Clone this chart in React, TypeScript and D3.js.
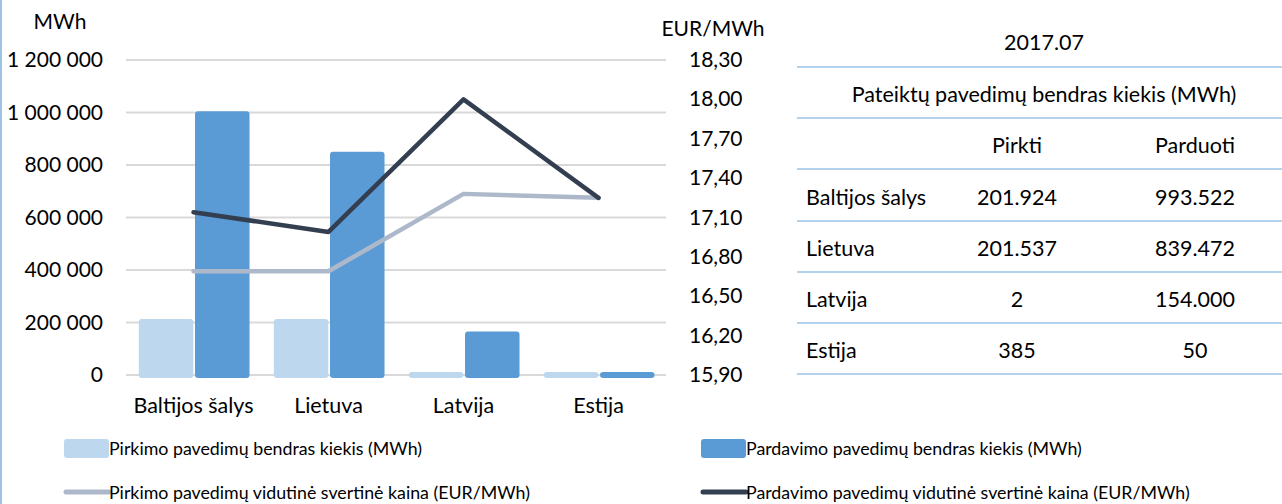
import React from "react";
import * as d3 from "d3";

const categories = ["Baltijos šalys", "Lietuva", "Latvija", "Estija"];
const buyVolume = [201924, 201537, 2, 385];
const sellVolume = [993522, 839472, 154000, 50];
const buyPrice = [16.69, 16.69, 17.28, 17.25];
const sellPrice = [17.14, 16.99, 18.0, 17.25];
const leftTicks = [0, 200000, 400000, 600000, 800000, 1000000, 1200000];
const rightTicks = [15.9, 16.2, 16.5, 16.8, 17.1, 17.4, 17.7, 18.0, 18.3];

const tableTitle = "2017.07";
const tableSubtitle = "Pateiktų pavedimų bendras kiekis (MWh)";
const tableColumns = ["Pirkti", "Parduoti"];
const tableRowLabels = ["Baltijos šalys", "Lietuva", "Latvija", "Estija"];
const tableBuy = ["201.924", "201.537", "2", "385"];
const tableSell = ["993.522", "839.472", "154.000", "50"];

const legendItems = [
  { label: "Pirkimo pavedimų bendras kiekis (MWh)", kind: "bar", color: "#BDD7EE" },
  { label: "Pardavimo pavedimų bendras kiekis (MWh)", kind: "bar", color: "#5B9BD5" },
  { label: "Pirkimo pavedimų vidutinė svertinė kaina (EUR/MWh)", kind: "line", color: "#ADB9CA" },
  { label: "Pardavimo pavedimų vidutinė svertinė kaina (EUR/MWh)", kind: "line", color: "#333F50" },
];

const FONT = "Lato, 'Open Sans', sans-serif";
const W = 1282;
const H = 504;
const plotL = 126;
const plotR = 666;
const plotT = 60;
const plotB = 375;
const FS = 21;
const FS_TXT = 21.5;
const FS_LEG = 17.8;

const fmtLeft = (v: number) => d3.format(",")(v).replace(/,/g, " ");
const fmtRight = (v: number) => v.toFixed(2).replace(".", ",");

export default function App() {
  const x = d3.scaleBand<string>().domain(categories).range([plotL, plotR]).padding(0);
  const bw = x.bandwidth();
  const x1 = d3
    .scaleBand<string>()
    .domain(["buy", "sell"])
    .range([bw * 0.095, bw * 0.915])
    .paddingInner(0.03);
  const yL = d3.scaleLinear().domain([0, 1200000]).range([plotB, plotT]);
  const yR = d3.scaleLinear().domain([15.9, 18.3]).range([plotB, plotT]);

  const line = d3
    .line<number>()
    .x((_, i) => (x(categories[i]) as number) + bw / 2)
    .y((d) => yR(d));

  const sw = 6; // bar outline thickness
  const bars: { key: string; vals: number[]; color: string }[] = [
    { key: "buy", vals: buyVolume, color: "#BDD7EE" },
    { key: "sell", vals: sellVolume, color: "#5B9BD5" },
  ];

  const tblL = 797;
  const tblR = 1282;
  const tblLines = [67, 118, 169, 221, 272, 323, 374];
  const colBuyX = 1017;
  const colSellX = 1195;
  const rowBase = [205, 256, 307, 358];

  return (
    <svg
      width={W}
      height={H}
      style={{ position: "absolute", left: 0, top: 0, background: "#fff" }}
      fontFamily={FONT}
    >
      <line x1={1} x2={1} y1={0} y2={H} stroke="#9DC3E6" strokeWidth={2} />

      {/* gridlines */}
      {leftTicks.map((t) => (
        <line key={t} x1={plotL} x2={plotR} y1={yL(t)} y2={yL(t)} stroke="#D9D9D9" strokeWidth={2} />
      ))}

      {/* left axis */}
      <text x={60} y={29} fontSize={FS} textAnchor="middle" fill="#000">MWh</text>
      {leftTicks.map((t) => (
        <text key={t} x={103} y={yL(t) + 7} fontSize={FS} textAnchor="end" fill="#000">
          {fmtLeft(t)}
        </text>
      ))}

      {/* right axis */}
      <text x={713} y={36} fontSize={FS} textAnchor="middle" fill="#000">EUR/MWh</text>
      {rightTicks.map((t) => (
        <text key={t} x={689} y={yR(t) + 7} fontSize={FS} textAnchor="start" fill="#000">
          {fmtRight(t)}
        </text>
      ))}

      {/* bars */}
      {bars.map((s) =>
        s.vals.map((v, i) => {
          const bx = (x(categories[i]) as number) + (x1(s.key) as number);
          const w = x1.bandwidth();
          const top = yL(v);
          return (
            <rect
              key={s.key + i}
              x={bx + sw / 2}
              y={top}
              width={w - sw}
              height={Math.max(0.01, yL(0) - top)}
              fill={s.color}
              stroke={s.color}
              strokeWidth={sw}
              strokeLinejoin="round"
            />
          );
        })
      )}

      {/* lines */}
      <path d={line(buyPrice) || ""} fill="none" stroke="#ADB9CA" strokeWidth={4.5} strokeLinejoin="round" strokeLinecap="round" />
      <path d={line(sellPrice) || ""} fill="none" stroke="#333F50" strokeWidth={4.5} strokeLinejoin="round" strokeLinecap="round" />

      {/* category labels */}
      {categories.map((c) => (
        <text key={c} x={(x(c) as number) + bw / 2} y={413} fontSize={FS_TXT} textAnchor="middle" fill="#000">
          {c}
        </text>
      ))}

      {/* legend */}
      {legendItems.map((it, i) => {
        const lx = i % 2 === 0 ? 64 : 701;
        const ly = i < 2 ? 448 : 492;
        return (
          <g key={it.label}>
            {it.kind === "bar" ? (
              <rect x={lx} y={ly - 9} width={45} height={19} rx={3} fill={it.color} />
            ) : (
              <line x1={lx + 2} x2={lx + 45} y1={ly} y2={ly} stroke={it.color} strokeWidth={5} strokeLinecap="round" />
            )}
            <text x={lx + 45} y={ly + 7} fontSize={FS_LEG} fill="#000">{it.label}</text>
          </g>
        );
      })}

      {/* table */}
      {tblLines.map((ly) => (
        <line key={ly} x1={tblL} x2={tblR} y1={ly} y2={ly} stroke="#9DC3E6" strokeWidth={1.5} />
      ))}
      <text x={1044} y={50} fontSize={FS_TXT} textAnchor="middle" fill="#000">{tableTitle}</text>
      <text x={1044} y={102} fontSize={FS_TXT} textAnchor="middle" fill="#000">{tableSubtitle}</text>
      <text x={colBuyX} y={153} fontSize={FS_TXT} textAnchor="middle" fill="#000">{tableColumns[0]}</text>
      <text x={colSellX} y={153} fontSize={FS_TXT} textAnchor="middle" fill="#000">{tableColumns[1]}</text>
      {tableRowLabels.map((r, i) => (
        <g key={r}>
          <text x={806} y={rowBase[i]} fontSize={FS_TXT} fill="#000">{r}</text>
          <text x={colBuyX} y={rowBase[i]} fontSize={FS_TXT} textAnchor="middle" fill="#000">{tableBuy[i]}</text>
          <text x={colSellX} y={rowBase[i]} fontSize={FS_TXT} textAnchor="middle" fill="#000">{tableSell[i]}</text>
        </g>
      ))}
    </svg>
  );
}
